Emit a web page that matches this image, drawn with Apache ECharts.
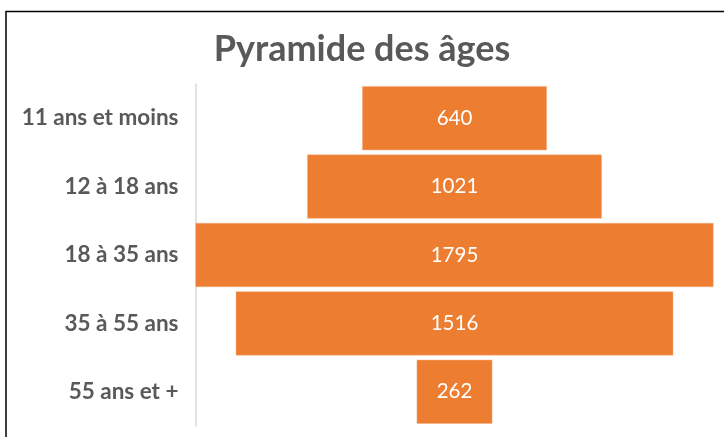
<!DOCTYPE html>
<html>
<head>
<meta charset="utf-8">
<title>Pyramide des âges</title>
<script src="https://cdn.jsdelivr.net/npm/echarts@6/dist/echarts.min.js"></script>
<style>
	html, body { margin: 0; padding: 0; background: #fff; }
	#chart { width: 724px; height: 437px; }
</style>
</head>
<body>
<div id="chart"></div>
<script>
var categories = ['11 ans et moins', '12 à 18 ans', '18 à 35 ans', '35 à 55 ans', '55 ans et +'];
var counts = [640, 1021, 1795, 1516, 262];

// the widest bar fills the plot, the others are pushed in by half the difference
var maxCount = Math.max.apply(null, counts);
var offsets = counts.map(function(v) { return (maxCount - v) / 2; });

var myChart = echarts.init(document.getElementById('chart'));

var option = {
	animation: false,
	title: {
		text: 'Pyramide des âges',
		left: 'center',
		top: 26,
		textStyle: {
			fontFamily: 'Lato',
			fontWeight: 'bold',
			fontSize: 36,
			color: '#595959'
		}
	},
	graphic: [
		{
			type: 'polyline',
			shape: { points: [[6, 437], [6, 11.5], [724, 11.5]] },
			style: { stroke: '#000', lineWidth: 1.5, fill: null }
		}
	],
	grid: {
		left: 195.5,
		right: 10.5,
		top: 84,
		bottom: 11,
		containLabel: false
	},
	xAxis: {
		type: 'value',
		min: 0,
		max: maxCount,
		show: false
	},
	yAxis: {
		type: 'category',
		data: categories,
		inverse: true,
		axisLine: { lineStyle: { color: '#D9D9D9', width: 1.5 } },
		axisTick: { show: false },
		axisLabel: {
			margin: 17,
			padding: [4, 0, 0, 0],
			fontFamily: 'Lato',
			fontWeight: 'bold',
			fontSize: 22.5,
			color: '#595959'
		}
	},
	series: [
		{
			name: 'offset',
			type: 'bar',
			stack: 'pyramid',
			data: offsets,
			barWidth: 64,
			itemStyle: { color: 'transparent' },
			emphasis: { disabled: true },
			silent: true
		},
		{
			name: 'Effectif',
			type: 'bar',
			stack: 'pyramid',
			data: counts,
			barWidth: 64,
			itemStyle: { color: '#ED7D31', borderColor: '#F4B183', borderWidth: 0.5 },
			label: {
				show: true,
				position: 'inside',
				padding: [4, 0, 0, 0],
				fontFamily: 'Lato',
				fontSize: 20.5,
				color: '#fff'
			}
		}
	]
};

myChart.setOption(option);
</script>
</body>
</html>
